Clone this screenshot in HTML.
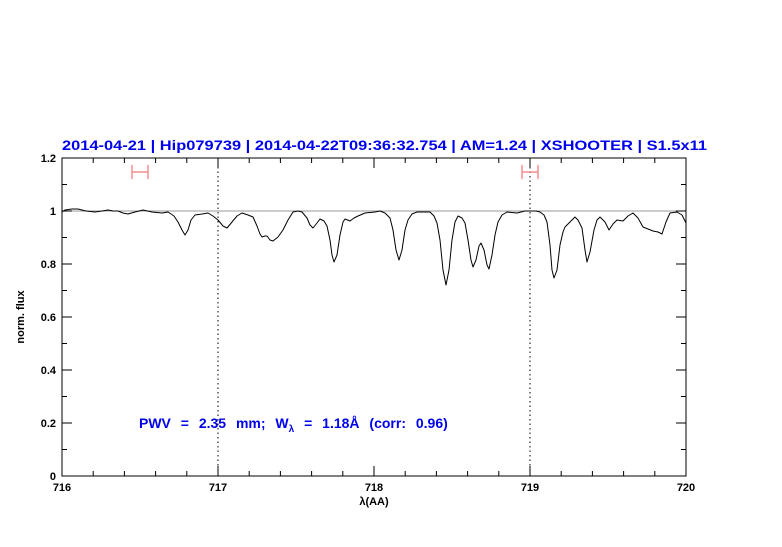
<!DOCTYPE html>
<html><head><meta charset="utf-8"><style>body{margin:0;background:#fff}</style></head><body>
<svg width="782" height="542" xmlns="http://www.w3.org/2000/svg" font-family="Liberation Sans, sans-serif">
<rect width="782" height="542" fill="#fff"/>
<text x="62" y="150" fill="#0000ee" font-size="14" font-weight="bold" textLength="645" lengthAdjust="spacingAndGlyphs">2014-04-21 | Hip079739 | 2014-04-22T09:36:32.754 | AM=1.24 | XSHOOTER | S1.5x11</text>
<line x1="62" y1="211" x2="686" y2="211" stroke="#999" stroke-width="1"/>
<line x1="218" y1="158" x2="218" y2="476" stroke="#000" stroke-dasharray="1.5,3"/>
<line x1="530" y1="158" x2="530" y2="476" stroke="#000" stroke-dasharray="1.5,3"/>
<g stroke="#f08080" stroke-width="1.3"><line x1="132" y1="172" x2="148" y2="172"/><line x1="132" y1="165" x2="132" y2="179"/><line x1="148" y1="165" x2="148" y2="179"/>
<line x1="522" y1="172" x2="538" y2="172"/><line x1="522" y1="165" x2="522" y2="179"/><line x1="538" y1="165" x2="538" y2="179"/></g>
<polyline fill="none" stroke="#000" stroke-width="1" stroke-linejoin="round" points="62,212 65,210 72,209 78,209 86,211 95,212 102,211 108,210 113,211 118,211 123,213 128,214 135,212 143,210 152,212 162,213 168,212 174,216 178,222 182,230 185,235 188,230 191,220 195,215 202,214 208,213 213,216 218,220 223,226 227,228 232,222 237,216 242,213 248,215 253,217 257,226 260,234 262,237 265,236 267,236 270,240 273,241 278,237 283,230 288,220 293,212 298,211 302,212 307,218 310,225 313,228 317,223 320,219 324,221 327,226 330,240 332,255 334,262 337,255 340,235 343,222 345,219 350,221 354,218 358,216 365,213 375,212 380,211 385,213 390,218 393,230 396,250 399,260 402,250 405,230 408,220 412,214 417,212 424,212 430,212 434,216 437,223 440,240 443,270 446,285 449,270 452,240 455,222 458,216 462,218 465,223 468,240 471,260 473,267 476,260 479,246 481,243 484,250 487,265 489,269 492,255 495,235 498,222 502,215 507,212 517,213 525,211 530,211 536,211 540,212 544,215 547,222 550,245 552,270 554,278 557,270 560,245 563,232 565,227 570,222 575,217 578,220 582,228 585,250 587,262 590,252 594,230 597,220 600,217 605,222 609,230 613,224 617,220 623,221 628,216 633,213 638,218 643,227 648,229 653,231 658,232 662,234 666,222 670,213 677,212 682,215 686,223"/>
<rect x="62" y="158" width="624" height="318" fill="none" stroke="#000" stroke-width="1"/>
<g stroke="#000" stroke-width="1">
<path d="M218,476v-10M374,476v-10M530,476v-10M218,158v10M374,158v10M530,158v10
M93.2,476v-5M124.4,476v-5M155.6,476v-5M186.8,476v-5M249.2,476v-5M280.4,476v-5M311.6,476v-5M342.8,476v-5M405.2,476v-5M436.4,476v-5M467.6,476v-5M498.8,476v-5M561.2,476v-5M592.4,476v-5M623.6,476v-5M654.8,476v-5
M93.2,158v5M124.4,158v5M155.6,158v5M186.8,158v5M249.2,158v5M280.4,158v5M311.6,158v5M342.8,158v5M405.2,158v5M436.4,158v5M467.6,158v5M498.8,158v5M561.2,158v5M592.4,158v5M623.6,158v5M654.8,158v5
M62,423h10M62,370h10M62,317h10M62,264h10M62,211h10M686,423h-10M686,370h-10M686,317h-10M686,264h-10M686,211h-10
M62,449.5h5M62,396.5h5M62,343.5h5M62,290.5h5M62,237.5h5M62,184.5h5M686,449.5h-5M686,396.5h-5M686,343.5h-5M686,290.5h-5M686,237.5h-5M686,184.5h-5"/>
</g>
<g font-size="11" font-weight="bold" fill="#000" text-anchor="end">
<text x="56" y="480">0</text><text x="56" y="427">0.2</text><text x="56" y="374">0.4</text><text x="56" y="321">0.6</text><text x="56" y="268">0.8</text><text x="56" y="215">1</text><text x="56" y="162">1.2</text>
</g>
<g font-size="11" font-weight="bold" fill="#000" text-anchor="middle">
<text x="62" y="491">716</text><text x="218" y="491">717</text><text x="374" y="491">718</text><text x="530" y="491">719</text><text x="686" y="491">720</text>
<text x="374" y="505">λ(AA)</text>
<text transform="translate(24,317) rotate(-90)">norm. flux</text>
</g>
<text x="139" y="428" fill="#0000ee" font-size="14" font-weight="bold" word-spacing="6">PWV = 2.35 mm; W<tspan font-size="10" dy="4">λ</tspan><tspan dy="-4"> = 1.18Å (corr: 0.96)</tspan></text>
</svg>
</body></html>
